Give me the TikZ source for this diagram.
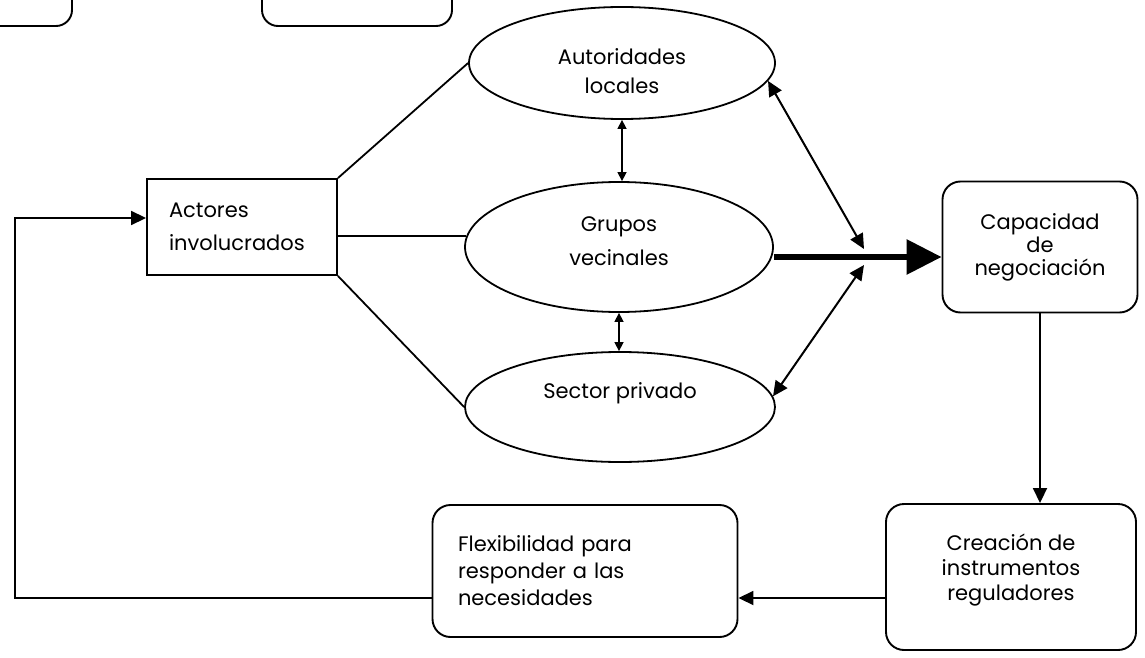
\documentclass[tikz,border=0pt]{standalone}
\usepackage{fontspec}
\setmainfont{Poppins}
\usetikzlibrary{arrows.meta,shapes.geometric}
\begin{document}
\begin{tikzpicture}[x=1pt,y=-1pt,
  line width=1.8pt,
  every node/.style={font=\fontsize{21}{27}\selectfont, inner sep=0pt},
  oval/.style={draw, ellipse, line width=1.8pt},
  rbox/.style={draw, rectangle, rounded corners=18pt, line width=1.9pt, align=center},
  sbox/.style={draw, rectangle, line width=1.9pt},
  lbl/.style={align=center},
  arr/.style={-{Triangle[length=15pt,width=14pt]}, line width=1.8pt},
  darr/.style={{Triangle[length=9pt,width=9pt]}-{Triangle[length=9pt,width=9pt]}, line width=1.5pt},
  diag/.style={{Triangle[length=15pt,width=14pt]}-{Triangle[length=15pt,width=14pt]}, line width=2pt},
  thick arr/.style={-{Triangle[length=35pt,width=34pt]}, line width=6pt}
]
\path[use as bounding box] (0,0) rectangle (1145,658);
\begin{scope}
  \clip (0,0) rectangle (1145,658);
  \draw[line width=1.9pt, rounded corners=16pt] (-40,-40) rectangle (72,26);
  \draw[line width=1.9pt, rounded corners=16pt] (262,-40) rectangle (452,26);
\end{scope}

% ellipses
\node[oval, minimum width=306pt, minimum height=112pt] (aut) at (622,63) {};
\node[oval, minimum width=308pt, minimum height=130pt] (grp) at (619,247) {};
\node[oval, minimum width=310pt, minimum height=110pt] (sec) at (620,407) {};
\node[lbl, font=\fontsize{21}{29}\selectfont] (autT) at (622,71) {Autoridades\\ locales};
\node[lbl, font=\fontsize{21}{34}\selectfont] (grpT) at (619,241) {Grupos\\ vecinales};
\node[lbl] (secT) at (620,393) {Sector privado};

% boxes
\node[sbox, minimum width=190pt, minimum height=96pt, text width=146pt, align=left,
  font=\fontsize{21}{33}\selectfont] (act) at (242,227)
  {Actores\\ involucrados};
\node[rbox, minimum width=195pt, minimum height=131pt,
  font=\fontsize{21}{23}\selectfont] (cap) at (1040,247)
  {Capacidad\\ de\\ negociación};
\node[rbox, minimum width=250pt, minimum height=146pt,
  font=\fontsize{21}{25}\selectfont] (cre) at (1011,577)
  {Creación de\\ instrumentos\\ reguladores\\[-5pt]};
\node[rbox, minimum width=305pt, minimum height=132pt, text width=254pt, align=left,
  font=\fontsize{21}{27}\selectfont] (fle) at (585,571)
  {Flexibilidad para\\ responder a las\\ necesidades};

% connectors from Actores
\draw (act.north east) -- (aut.west);
\draw (grp.176) -- (grp.176 -| act.east);
\draw (act.south east) -- (sec.west);

% vertical double arrows
\draw[darr] (aut.south) -- (aut.south |- grp.north);
\draw[darr] (grp.south) -- (grp.south |- sec.north);

% thick arrow and junction
\coordinate (j1) at (864,249);
\coordinate (j2) at (864,265);
\draw[thick arr] ([yshift=-10pt]grp.east) -- ([yshift=-10pt]grp.east -| cap.west);
\draw[diag] (aut.-7) -- (j1);
\draw[diag] (sec.4) -- (j2);

% right column and bottom
\draw[arr] (cap.south) -- (cap.south |- cre.north);
\draw[arr] ([yshift=-21pt]cre.west) -- ([yshift=-21pt]cre.west -| fle.east);
\coordinate (fb) at (15,400);
\draw[arr] ([yshift=-27pt]fle.west) -| (fb) |- ([yshift=9pt]act.west);
\end{tikzpicture}
\end{document}
